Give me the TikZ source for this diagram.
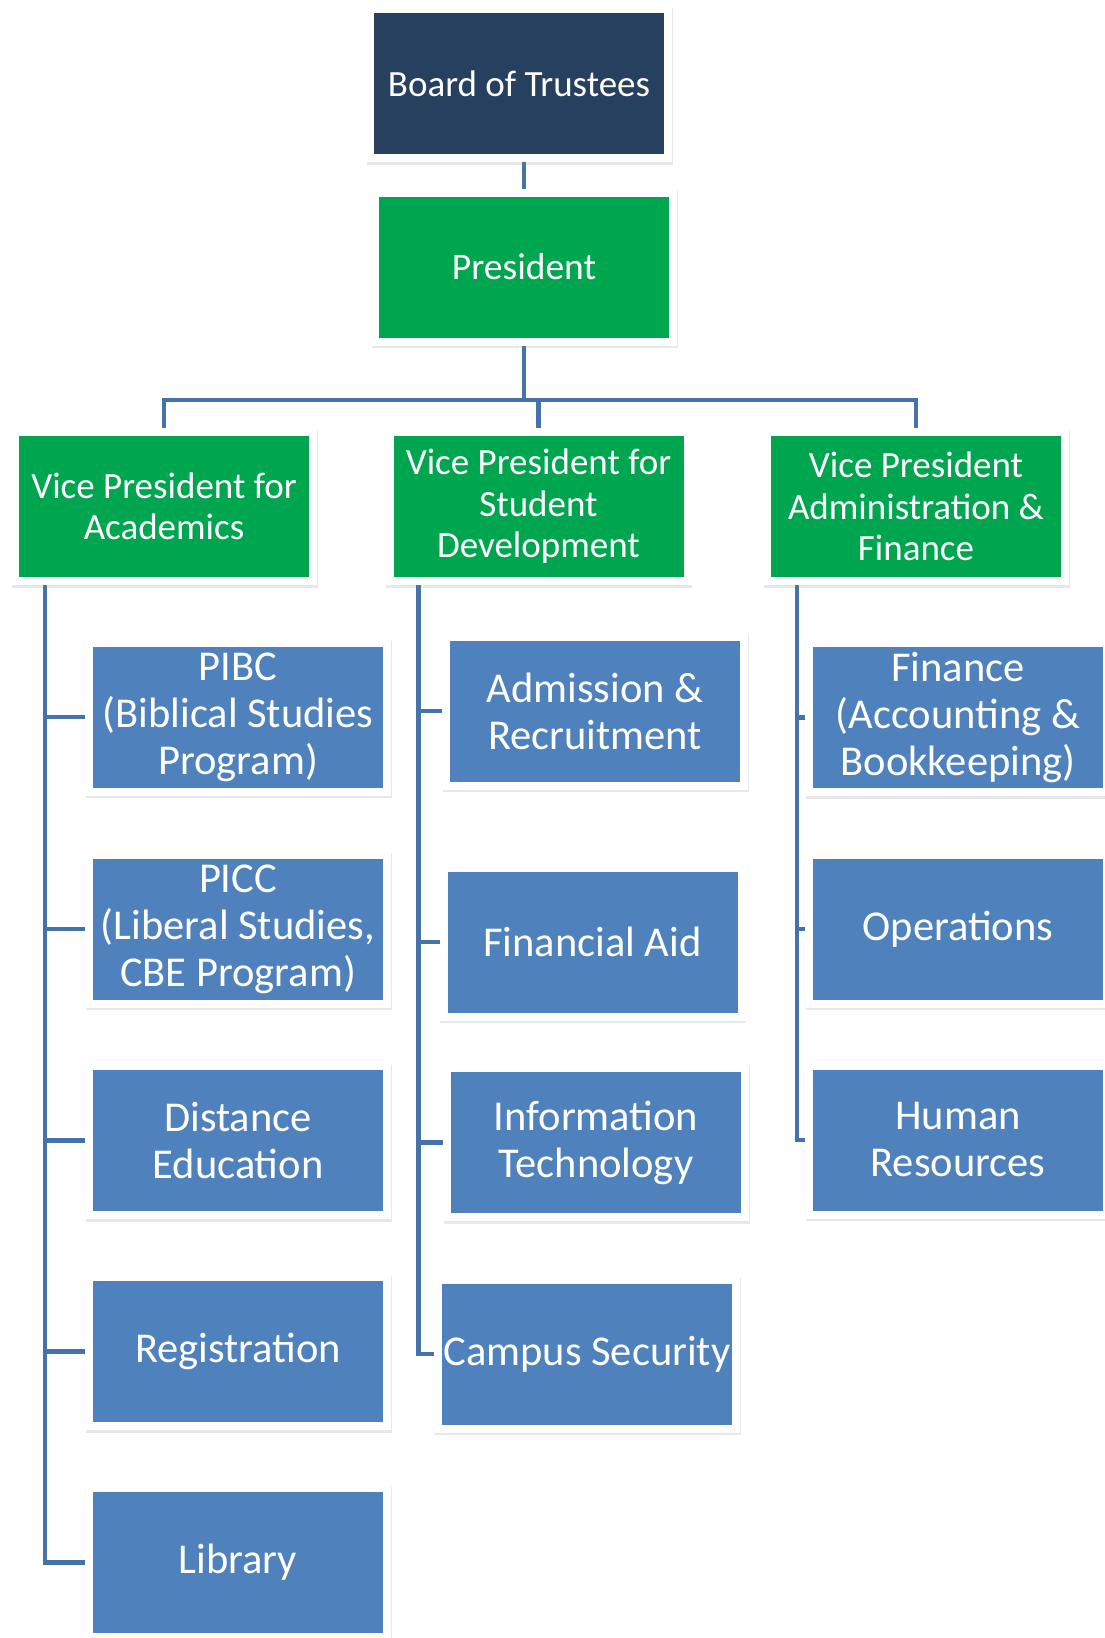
\documentclass[tikz,border=0pt]{standalone}
\usepackage{fontspec}
\setmainfont{Carlito}
\usetikzlibrary{shadows,backgrounds}
\definecolor{navy}{HTML}{27405F}
\definecolor{ogreen}{HTML}{00A64F}
\definecolor{oblue}{HTML}{4F81BD}
\definecolor{lineblue}{HTML}{4672AA}
\tikzset{
  box/.style={rectangle, fill=white, draw=none, minimum width=306pt, minimum height=157pt,
    inner sep=0pt, outer sep=0pt, align=center, text=white,
    drop shadow={shadow xshift=0.5pt, shadow yshift=-2.5pt, opacity=0.18},
    path picture={\fill[#1] ([xshift=8pt,yshift=-8pt]path picture bounding box.north west) rectangle ([xshift=-8pt,yshift=8pt]path picture bounding box.south east);}},
  topbox/.style={box=navy, font=\fontsize{37}{44}\selectfont},
  vpbox/.style={box=ogreen, font=\fontsize{37}{41.5}\selectfont},
  presbox/.style={box=ogreen, font=\fontsize{37.5}{44}\selectfont},
  unitbox/.style={box=oblue, font=\fontsize{42.5}{47}\selectfont},
  conn/.style={draw=lineblue, line width=4.5pt}
}
\begin{document}
\begin{tikzpicture}[x=1pt,y=-1pt]
\useasboundingbox (0,0) rectangle (1104,1638);
\node[topbox] (board) at (519,83.5) {Board of Trustees};
\node[presbox] (pres) at (524,267) {President};
\node[vpbox] (vpa) at (164,506.5) {Vice President for\\Academics};
\node[vpbox] (vps) at (538.5,506.5) {Vice President for\\Student\\Development};
\node[vpbox] (vpf) at (916,506.5) {Vice President\\Administration \&\\Finance};
\node[unitbox] (pibc) at (238,717) {PIBC\\(Biblical Studies\\Program)};
\node[unitbox] (picc) at (238,929) {PICC\\(Liberal Studies,\\CBE Program)};
\node[unitbox] (dist) at (238,1140.5) {Distance\\Education};
\node[unitbox] (reg) at (238,1351.5) {Registration};
\node[unitbox] (lib) at (238,1562.5) {Library};
\node[unitbox] (adm) at (595,711) {Admission \&\\Recruitment};
\node[unitbox] (finaid) at (592.5,942) {Financial Aid};
\node[unitbox] (it) at (596,1142.5) {Information\\Technology};
\node[unitbox] (sec) at (587,1354) {Campus Security};
\node[unitbox] (fin) at (958,717.5) {Finance\\(Accounting \&\\Bookkeeping)};
\node[unitbox] (ops) at (958,929) {Operations};
\node[unitbox] (hr) at (958,1140) {Human\\Resources};
\begin{scope}[on background layer]
\coordinate (bus) at (0,400);
\draw[conn] (pres.north |- board.south) -- (pres.north);
\draw[conn] (pres.south) -- (pres.south |- bus) -| (vpa.north);
\draw[conn] (pres.south |- bus) -| (vps.north);
\draw[conn] (pres.south |- bus) -| (vpf.north);
\foreach \c in {pibc,picc,dist,reg,lib}
  \draw[conn] ([xshift=34pt]vpa.south west) |- (\c.west);
\foreach \c in {adm,finaid,it,sec}
  \draw[conn] ([xshift=33pt]vps.south west) |- (\c.west);
\foreach \c in {fin,ops,hr}
  \draw[conn] ([xshift=34pt]vpf.south west) |- (\c.west);
\end{scope}
\end{tikzpicture}
\end{document}
